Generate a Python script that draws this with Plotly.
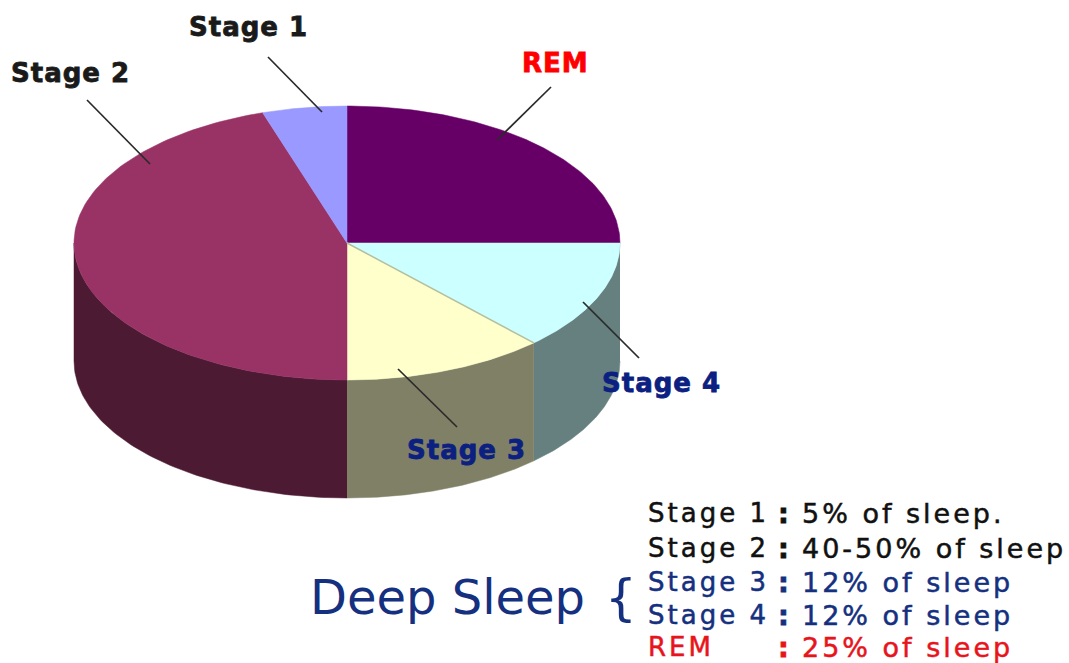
import numpy as np
import plotly.graph_objects as go

stages = ["REM", "Stage 4", "Stage 3", "Stage 2", "Stage 1"]
shares = [25, 13, 12, 45, 5]
top_colors = ["#660066", "#CCFFFF", "#FFFFCC", "#993366", "#9999FF"]
side_colors = ["#660066", "#668080", "#808066", "#4D1A33", "#9999FF"]

CX, CY, RX, RY, DEPTH = 347, 243, 273, 137, 118

label_text = ["REM", "Stage 4", "Stage 3", "Stage 2", "Stage 1"]
label_x = [520, 600, 405, 9, 187]
label_y = [63, 383, 450, 73, 27]
label_color = ["#FF0000", "#0B2080", "#0B2080", "#1A1A1A", "#1A1A1A"]

leader_x = [[551, 497], [639, 583], [457, 398], [87, 150], [268, 322]]
leader_y = [[87, 140], [358, 302], [427, 369], [100, 164], [57, 112]]

note_left = ["Stage 1", "Stage 2", "Stage 3", "Stage 4", "REM"]
note_right = ["5% of sleep.", "40-50% of sleep", "12% of sleep", "12% of sleep", "25% of sleep"]
note_color = ["#111111", "#111111", "#15307F", "#15307F", "#E8141C"]
note_y = [513, 548, 582, 615, 647]

fig = go.Figure()


def ex(t):
    return CX + RX * np.sin(np.radians(t))


def ey(t):
    return CY - RY * np.cos(np.radians(t))


edges = np.concatenate([[0], np.cumsum(shares) * 3.6])

# Side walls, only the part of each slice facing the viewer
for i in range(len(shares)):
    a, b = max(edges[i], 90), min(edges[i + 1], 270)
    if b <= a:
        continue
    t = np.linspace(a, b, 90)
    xs = np.concatenate([ex(t), ex(t[::-1])])
    ys = np.concatenate([ey(t), ey(t[::-1]) + DEPTH])
    fig.add_trace(go.Scatter(x=xs, y=ys, mode="lines", fill="toself", fillcolor=side_colors[i],
                             line=dict(color=side_colors[i], width=0.5), hoverinfo="skip", showlegend=False))

# Top face
for i in range(len(shares)):
    t = np.linspace(edges[i], edges[i + 1], 120)
    xs = np.concatenate([[CX], ex(t), [CX]])
    ys = np.concatenate([[CY], ey(t), [CY]])
    fig.add_trace(go.Scatter(x=xs, y=ys, mode="lines", fill="toself", fillcolor=top_colors[i],
                             line=dict(color=top_colors[i], width=0.5), name=stages[i],
                             hoverinfo="name", showlegend=False))

# Soft seam between Stage 3 and Stage 4
t_seam = edges[2]
fig.add_trace(go.Scatter(x=[CX, ex(t_seam)], y=[CY, ey(t_seam)], mode="lines",
                         line=dict(color="#B4BFA0", width=1.5), hoverinfo="skip", showlegend=False))

for lx, ly in zip(leader_x, leader_y):
    fig.add_trace(go.Scatter(x=lx, y=ly, mode="lines", line=dict(color="#2A2A2A", width=1.7),
                             hoverinfo="skip", showlegend=False))

annotations = []


def note(x, y, text, color, size, bold=False):
    annotations.append(dict(x=x, y=y, xref="x", yref="y", xanchor="left", yanchor="middle", align="left",
                            text=f"<b>{text}</b>" if bold else text, showarrow=False,
                            font=dict(family="DejaVu Sans", size=size, color=color)))


for tx, x, y, c in zip(label_text, label_x, label_y, label_color):
    note(x, y, tx, c, 26, True)

for l, r, c, y in zip(note_left, note_right, note_color, note_y):
    note(646, y, l, c, 26)
    note(776, y, ":", c, 27, True)
    note(800, y, r, c, 27)

note(308, 597, "Deep Sleep", "#15307F", 48)
note(603, 598, "{", "#15307F", 50)

fig.update_layout(
    width=1069, height=663, margin=dict(l=0, r=0, t=0, b=0),
    paper_bgcolor="white", plot_bgcolor="white", annotations=annotations,
    xaxis=dict(range=[0, 1069], visible=False, fixedrange=True),
    yaxis=dict(range=[663, 0], visible=False, fixedrange=True),
)

post = """
document.documentElement.style.overflow = 'hidden';
document.body.style.margin = '0';
var spacing = {26: 3, 27: 3};
document.querySelectorAll('text.annotation-text').forEach(function (el) {
  var bold = el.querySelector('[style*="bold"]') !== null;
  var size = parseInt(el.style.fontSize);
  var s = bold ? (size === 26 ? 1 : 0) : spacing[size];
  if (s) { el.style.letterSpacing = s + 'px'; }
  if (size < 30) {
    el.style.stroke = el.style.fill;
    el.style.strokeWidth = bold ? '0.8px' : '0.5px';
  }
});
"""
fig.write_html("out.html", config=dict(displayModeBar=False), post_script=post)
